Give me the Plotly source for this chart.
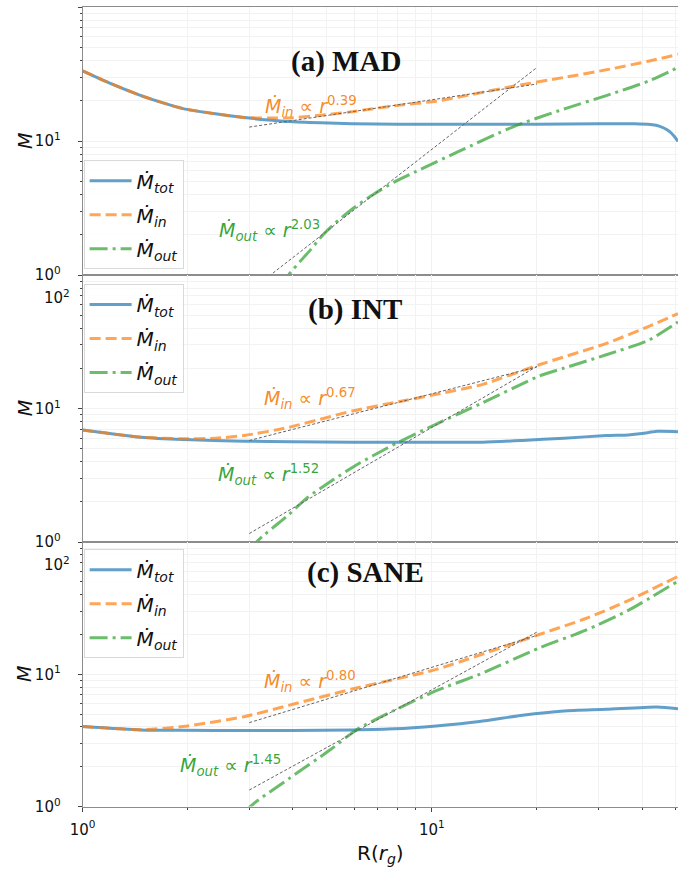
import numpy as np
import plotly.graph_objects as go

# ---------------- radial profiles of the accretion rates ----------------
# (a) MAD
r_tot_a = [1.0, 1.2, 1.47, 1.7, 1.94, 2.4, 2.9, 3.4, 3.89, 4.8, 5.92, 8, 12, 20, 30, 38, 42.3, 45, 47.3, 49.3, 50.7]
tot_a = [33.5, 27.0, 21.9, 19.3, 17.5, 16.0, 15.0, 14.4, 14.0, 13.7, 13.5, 13.4, 13.4, 13.4, 13.5, 13.5, 13.3, 12.9, 12.1, 11.0, 9.95]
r_in_a = [1.0, 1.2, 1.47, 1.7, 1.94, 2.4, 2.9, 3.4, 3.89, 4.8, 5.92, 8, 10.3, 13, 17.1, 23.9, 31.6, 42, 50.7]
in_a = [33.5, 27.0, 21.9, 19.3, 17.5, 16.0, 15.0, 14.9, 14.9, 15.6, 16.6, 18.5, 19.9, 22.3, 25.7, 29.9, 34.1, 39.7, 44.5]
r_out_a = [3.75, 3.89, 4.2, 4.5, 4.86, 5.29, 6.0, 6.8, 7.8, 9.0, 11.9, 17.1, 23.9, 31.6, 41.9, 50.7]
out_a = [0.8, 1.0, 1.27, 1.55, 1.98, 2.45, 3.2, 4.0, 4.95, 5.93, 8.34, 12.8, 17.4, 21.9, 28.2, 35.5]

# (b) INT
r_tot_b = [1.0, 1.47, 1.94, 2.9, 4.0, 5.92, 10.3, 14.0, 18.2, 23.9, 31.6, 36.5, 40, 44.2, 50.7]
tot_b = [6.92, 6.1, 5.86, 5.70, 5.64, 5.60, 5.60, 5.60, 5.77, 6.0, 6.28, 6.35, 6.5, 6.76, 6.72]
r_in_b = [1.0, 1.47, 1.94, 2.4, 2.9, 3.89, 5.92, 7.82, 10.3, 14.0, 20.3, 31.6, 42, 50.7]
in_b = [6.92, 6.1, 5.94, 6.0, 6.28, 7.23, 9.6, 11.1, 12.8, 15.2, 21.3, 30.8, 41.5, 51.4]
r_out_b = [3.05, 3.15, 3.89, 4.4, 5.14, 6.0, 6.8, 7.92, 10.3, 13.7, 20.3, 23.9, 31.6, 41.9, 50.7]
out_b = [0.85, 1.0, 1.60, 2.15, 2.85, 3.7, 4.45, 5.5, 7.66, 10.8, 17.5, 20.1, 25.3, 32.7, 44.6]

# (c) SANE
r_tot_c = [1.0, 1.47, 1.94, 2.9, 4.0, 5.92, 7.82, 10.3, 13.7, 18.2, 23.9, 31.6, 44.2, 50.7]
tot_c = [4.03, 3.80, 3.77, 3.76, 3.76, 3.80, 3.87, 4.07, 4.39, 4.91, 5.29, 5.44, 5.67, 5.5]
r_in_c = [1.0, 1.47, 1.94, 2.9, 3.89, 5.92, 10.3, 20.3, 27.5, 36.4, 50.7]
in_c = [4.03, 3.81, 4.03, 4.78, 5.82, 7.74, 10.9, 20.0, 26.3, 35.9, 55.0]
r_out_c = [2.95, 3.02, 3.89, 5.13, 6.08, 7.82, 10.3, 13.7, 20.3, 27.5, 36.4, 50.7]
out_c = [0.9, 1.0, 1.62, 2.70, 3.80, 5.35, 7.52, 10.0, 15.8, 21.5, 30.3, 50.6]

# power-law fits  M = A * r**p  over 3 <= r <= 20
fit_r = [3.0, 20.0]
fit_in_amp = [8.3, 2.76, 1.79]
fit_in_pow = [0.39, 0.67, 0.80]
fit_out_amp = [0.0811, 0.218, 0.271]
fit_out_pow = [2.03, 1.52, 1.45]

panel_names = ["(a) MAD", "(b) INT", "(c) SANE"]
x_ticks = [1, 10]
x_ticktext = ["10<sup>0</sup>", "10<sup>1</sup>"]

# ---------------- layout geometry (pixels of the 678 x 872 page) ----------------
W, H = 678, 872
def yp(p):
    return 1 - p / H

x_dom = [71 / W, 1.0]
y_doms = [[yp(278), yp(7.3)], [yp(547.7), yp(278)], [yp(815), yp(547.7)]]

BLUE = "rgba(31,119,180,0.7)"
ORANGE = "rgba(255,127,14,0.7)"
GREEN = "rgba(44,160,44,0.7)"
ORANGE_TXT = "rgba(245,125,10,0.9)"
GREEN_TXT = "rgba(44,160,44,0.95)"
FIT = "rgb(100,100,100)"
GRID = "#f2f2f2"
FONT = "DejaVu Sans"

profiles = [
    (r_tot_a, tot_a, r_in_a, in_a, r_out_a, out_a),
    (r_tot_b, tot_b, r_in_b, in_b, r_out_b, out_b),
    (r_tot_c, tot_c, r_in_c, in_c, r_out_c, out_c),
]

fig = go.Figure()
for i, (rt, mt, ri, mi, ro, mo) in enumerate(profiles):
    sfx = "" if i == 0 else str(i + 1)
    xa, ya = "x" + sfx, "y" + sfx
    leg = "legend" + sfx
    fig.add_trace(go.Scatter(x=rt, y=mt, xaxis=xa, yaxis=ya, mode="lines",
                             line=dict(color=BLUE, width=3, shape="spline", smoothing=0.6),
                             name="<i>Ṁ</i><sub><i>tot</i></sub>", legend=leg, legendgroup="tot%d" % i))
    fig.add_trace(go.Scatter(x=ri, y=mi, xaxis=xa, yaxis=ya, mode="lines",
                             line=dict(color=ORANGE, width=3, dash="11px,5px", shape="spline", smoothing=0.6),
                             name="<i>Ṁ</i><sub><i>in</i></sub>", legend=leg, legendgroup="in%d" % i))
    fig.add_trace(go.Scatter(x=ro, y=mo, xaxis=xa, yaxis=ya, mode="lines",
                             line=dict(color=GREEN, width=3, dash="18px,5px,3px,5px", shape="spline", smoothing=0.7),
                             name="<i>Ṁ</i><sub><i>out</i></sub>", legend=leg, legendgroup="out%d" % i))
    fr = np.array(fit_r)
    for amp, pw in ((fit_in_amp[i], fit_in_pow[i]), (fit_out_amp[i], fit_out_pow[i])):
        fig.add_trace(go.Scatter(x=fr, y=amp * fr ** pw, xaxis=xa, yaxis=ya, mode="lines",
                                 line=dict(color=FIT, width=1, dash="3px,2px"),
                                 showlegend=False, hoverinfo="skip"))

minor_x = [2, 3, 4, 5, 6, 7, 8, 9, 20, 30, 40, 50]
minor_y = [2, 3, 4, 5, 6, 7, 8, 9, 20, 30, 40, 50, 60, 70, 80, 90]

axis_common = dict(type="log", showline=True, linecolor="#8c8c8c", linewidth=1,
                   ticks="outside", ticklen=4, tickcolor="#444", tickwidth=1,
                   showgrid=True, gridcolor=GRID, gridwidth=1, zeroline=False,
                   tickfont=dict(family=FONT, size=15, color="#111"))

layout = dict(width=W, height=H, margin=dict(l=0, r=0, t=0, b=0),
              plot_bgcolor="white", paper_bgcolor="white",
              font=dict(family=FONT, color="#111"))

for i in range(3):
    sfx = "" if i == 0 else str(i + 1)
    xa = dict(axis_common, domain=x_dom, range=[0, 1.705], anchor="y" + sfx,
              mirror=True, tickvals=x_ticks, ticktext=x_ticktext,
              showticklabels=(i == 2), ticklabelstandoff=5,
              minor=dict(tickvals=minor_x, ticks="outside", ticklen=2, tickcolor="#444",
                         showgrid=True, gridcolor=GRID))
    if i > 0:
        xa["matches"] = "x"
    if i == 2:
        xa["title"] = dict(text="R(<i>r</i><sub><i>g</i></sub>)", font=dict(family=FONT, size=20, color="#111"),
                           standoff=8)
    yv = [1, 10, 100] if i == 0 else [1, 10]
    yt = ["10<sup>0</sup>", "10<sup>1</sup>", "10<sup>2</sup>"][:len(yv)]
    ya = dict(axis_common, domain=y_doms[i], range=[0, 2], anchor="x" + sfx,
              tickvals=yv, ticktext=yt, ticklabelstandoff=14,
              minor=dict(tickvals=minor_y, ticks="outside", ticklen=2, tickcolor="#444",
                         showgrid=True, gridcolor=GRID))
    layout["xaxis" + sfx] = xa
    layout["yaxis" + sfx] = ya

legend_tops = [162, 287, 555]
for i in range(3):
    sfx = "" if i == 0 else str(i + 1)
    layout["legend" + sfx] = dict(x=72 / W, y=yp(legend_tops[i]), xanchor="left", yanchor="top",
                                  bgcolor="rgba(255,255,255,0.85)", bordercolor="#d9d9d9", borderwidth=1,
                                  font=dict(family=FONT, size=20, color="#111"),
                                  itemwidth=42, tracegroupgap=5)

fig.update_layout(**layout)

# y-axis labels, one per panel, centred on each panel
for dom in y_doms:
    fig.add_annotation(x=12 / W, y=(dom[0] + dom[1]) / 2, xref="paper", yref="paper",
                       xanchor="center", yanchor="middle",
                       text="<i>M</i>", textangle=-90, showarrow=False,
                       font=dict(family=FONT, size=19, color="#111"))

# panel titles
title_pos = [(340, 43), (349, 313), (359, 597)]
for name, (px, pyy) in zip(panel_names, title_pos):
    fig.add_annotation(x=px / W, y=yp(pyy), xref="paper", yref="paper", text="<b>" + name + "</b>",
                       showarrow=False, font=dict(family="Liberation Serif", size=29, color="#111"))

# top-decade labels of the lower panels
for pyy in (300, 570):
    fig.add_annotation(x=60 / W, y=yp(pyy), xref="paper", yref="paper", text="10<sup>2</sup>",
                       xanchor="right", showarrow=False, font=dict(family=FONT, size=15, color="#111"))

# power-law labels (log10 coordinates of label centres)
fit_label_pos = [((0.655, 1.256), (0.536, 0.333)),
                 ((0.652, 1.072), (0.533, 0.509)),
                 ((0.652, 0.948), (0.424, 0.311))]
for i in range(3):
    sfx = "" if i == 0 else str(i + 1)
    (xi, yi), (xo, yo) = fit_label_pos[i]
    fig.add_annotation(x=xi, y=yi, xref="x" + sfx, yref="y" + sfx, showarrow=False,
                       text="<i>Ṁ</i><sub><i>in</i></sub> ∝ <i>r</i><sup>%.2f</sup>" % fit_in_pow[i],
                       font=dict(family=FONT, size=19, color=ORANGE_TXT))
    fig.add_annotation(x=xo, y=yo, xref="x" + sfx, yref="y" + sfx, showarrow=False,
                       text="<i>Ṁ</i><sub><i>out</i></sub> ∝ <i>r</i><sup>%.2f</sup>" % fit_out_pow[i],
                       font=dict(family=FONT, size=19, color=GREEN_TXT))

fig.write_html("out.html")
